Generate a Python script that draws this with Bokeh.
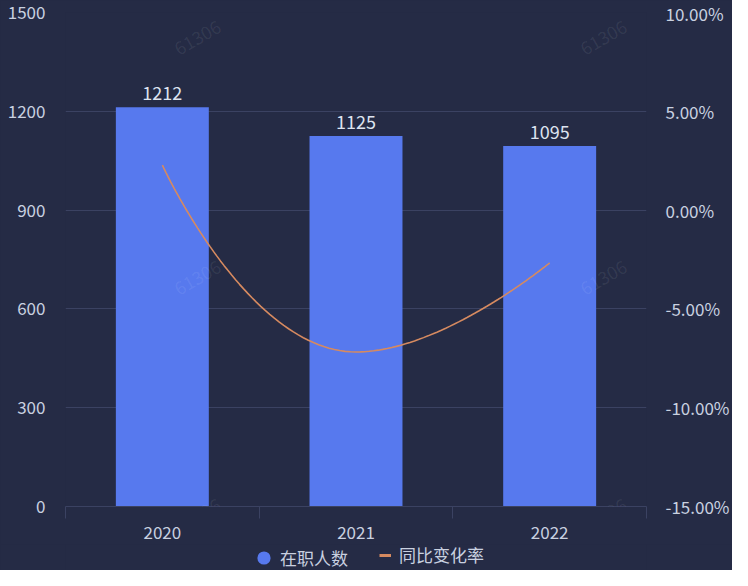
import math
import numpy as np
from bokeh.plotting import figure
from bokeh.layouts import column
from bokeh.models import (Range1d, LinearAxis, FixedTicker, Legend, LegendItem,
                          Label, ColumnDataSource)
from bokeh.core.properties import value
from bokeh.embed import file_html
from bokeh.resources import INLINE

# ---------------- data ----------------
years = ["2020", "2021", "2022"]
headcount = [1212, 1125, 1095]
yoy_pct = [2.28, -7.18, -2.67]
left_ticks = [0, 300, 600, 900, 1200, 1500]
right_ticks = [-15, -10, -5, 0, 5, 10]
series_names = ["在职人数", "同比变化率"]
watermark = "61306"

# ---------------- style ----------------
W = 732
H1, H2 = 544, 26
BL, BR, BT, BB = 65, 82, 12, 38
FW = W - BL - BR
FH = H1 - BT - BB
BG = "#252b45"
BAR = "#5779ee"
LINE = "#d68a60"
GRID = "#3b4262"
TXT = "#c9d1e0"
FONT = "Noto Sans CJK SC"

p = figure(width=W, height=H1, output_backend="svg", toolbar_location=None,
           x_range=Range1d(-0.5, 2.5), y_range=Range1d(left_ticks[0], left_ticks[-1]),
           min_border_left=BL, min_border_right=BR, min_border_top=BT,
           min_border_bottom=BB, background_fill_color=BG, border_fill_color=BG)
p.outline_line_color = None
p.styles = {"background-color": BG}
p.extra_y_ranges = {"pct": Range1d(right_ticks[0], right_ticks[-1])}

# grid
p.xgrid.visible = False
p.ygrid.ticker = FixedTicker(ticks=left_ticks)
p.ygrid.grid_line_color = GRID
p.ygrid.grid_line_width = 1

# left axis
ly = p.yaxis[0]
ly.ticker = FixedTicker(ticks=left_ticks)
ly.axis_line_color = None
ly.major_tick_line_color = None
ly.minor_tick_line_color = None
ly.major_tick_out = 0
ly.major_label_standoff = 20
ly.major_label_text_color = TXT
ly.major_label_text_font = FONT
ly.major_label_text_font_size = "17px"

# right axis
ry = LinearAxis(y_range_name="pct",
                ticker=FixedTicker(ticks=right_ticks),
                major_label_overrides={t: f"{t:.2f}%" for t in right_ticks})
ry.axis_line_color = None
ry.major_tick_line_color = None
ry.minor_tick_line_color = None
ry.major_tick_out = 0
ry.major_label_standoff = 19
ry.major_label_text_color = TXT
ry.major_label_text_font = FONT
ry.major_label_text_font_size = "17px"
p.add_layout(ry, "right")

# bottom axis
xs = list(range(len(years)))
bx = p.xaxis[0]
bx.ticker = FixedTicker(ticks=xs, minor_ticks=[i - 0.5 for i in range(len(years) + 1)])
bx.major_label_overrides = {i: y for i, y in enumerate(years)}
bx.axis_line_color = GRID
bx.major_tick_line_color = None
bx.major_tick_out = 0
bx.major_tick_in = 0
bx.minor_tick_line_color = GRID
bx.minor_tick_out = 12
bx.minor_tick_in = 0
bx.major_label_standoff = 7
bx.major_label_text_color = TXT
bx.major_label_text_font = FONT
bx.major_label_text_font_size = "17px"

# bars
src = ColumnDataSource(dict(x=xs, y=headcount, lab=[str(v) for v in headcount]))
p.vbar(x="x", top="y", width=0.48, bottom=0, source=src,
       fill_color=BAR, line_color=None)
p.text(x="x", y="y", text="lab", source=src, text_align="center",
       text_baseline="alphabetic", y_offset=-14, text_color="#dde3f0",
       text_font=value(FONT), text_font_size="18px")

# smooth line (echarts-like bezier smoothing in screen-proportional space)
sxf = FW / 3.0
syf = FH / (right_ticks[-1] - right_ticks[0])
P = [(xs[i] * sxf, yoy_pct[i] * syf) for i in range(len(xs))]
n = len(P)
smooth = 0.5


def ctrl(i):
    x, y = P[i]
    if i == 0 or i == n - 1:
        return (x, y), (x, y)
    px_, py_ = P[i - 1]
    nx_, ny_ = P[i + 1]
    vx, vy = nx_ - px_, ny_ - py_
    lp = math.hypot(x - px_, y - py_)
    ln = math.hypot(nx_ - x, ny_ - y)
    r = ln / (ln + lp)
    ncx = x + vx * smooth * r
    ncy = y + vy * smooth * r
    ncx = max(min(ncx, max(nx_, x)), min(nx_, x))
    ncy = max(min(ncy, max(ny_, y)), min(ny_, y))
    vx, vy = ncx - x, ncy - y
    c1x = x - vx * lp / ln
    c1y = y - vy * lp / ln
    c1x = max(min(c1x, max(px_, x)), min(px_, x))
    c1y = max(min(c1y, max(py_, y)), min(py_, y))
    vx, vy = x - c1x, y - c1y
    ncx = x + vx * ln / lp
    ncy = y + vy * ln / lp
    return (c1x, c1y), (ncx, ncy)


cps = [ctrl(i) for i in range(n)]
cx, cy = [], []
t = np.linspace(0, 1, 60)
for i in range(n - 1):
    p0 = np.array(P[i]); p3 = np.array(P[i + 1])
    p1 = np.array(cps[i][1]); p2 = np.array(cps[i + 1][0])
    for tt in (t if i == 0 else t[1:]):
        b = ((1 - tt) ** 3) * p0 + 3 * ((1 - tt) ** 2) * tt * p1 + 3 * (1 - tt) * tt ** 2 * p2 + tt ** 3 * p3
        cx.append(b[0] / sxf)
        cy.append(b[1] / syf)

p.line(cx, cy, y_range_name="pct", line_color=LINE, line_width=1.6)

# watermarks
for wx in (132, 538):
    for wy in (469, 229, -9):
        p.add_layout(Label(x=wx, y=wy, x_units="screen", y_units="screen",
                           text=watermark, angle=30, angle_units="deg",
                           text_color="white", text_alpha=0.08,
                           text_font=FONT, text_font_size="18px",
                           text_align="center", text_baseline="middle"))

# ---------------- legend strip ----------------
pl = figure(width=W, height=H2, output_backend="svg", toolbar_location=None,
            x_range=Range1d(0, 1), y_range=Range1d(0, 1),
            x_axis_type=None, y_axis_type=None,
            min_border_left=0, min_border_right=0, min_border_top=0,
            min_border_bottom=0, background_fill_color=BG, border_fill_color=BG)
pl.outline_line_color = None
pl.styles = {"background-color": BG}
pl.grid.visible = False
nan = float("nan")
dummy_c = pl.scatter(x=[nan], y=[nan], marker="circle", size=13,
                     fill_color=BAR, line_color=None)
dummy_l = pl.line(x=[nan, nan], y=[nan, nan], line_color=LINE, line_width=3)

leg1 = Legend(items=[LegendItem(label=series_names[0], renderers=[dummy_c])],
              location=(182, -4), orientation="horizontal",
              glyph_width=33, glyph_height=33, label_standoff=-3,
              padding=0, margin=0, border_line_color=None,
              background_fill_alpha=0, label_text_color=TXT,
              label_text_font=FONT, label_text_font_size="17px")
leg2 = Legend(items=[LegendItem(label=series_names[1], renderers=[dummy_l])],
              location=(314, 3), orientation="horizontal",
              glyph_width=12, glyph_height=20, label_height=20, label_standoff=8,
              padding=0, margin=0, border_line_color=None,
              background_fill_alpha=0, label_text_color=TXT,
              label_text_font=FONT, label_text_font_size="17px")
pl.add_layout(leg1, "center")
pl.add_layout(leg2, "center")

layout = column(p, pl, spacing=0)
layout.styles = {"background-color": BG}
open("out.html", "w").write(file_html(layout, INLINE))
